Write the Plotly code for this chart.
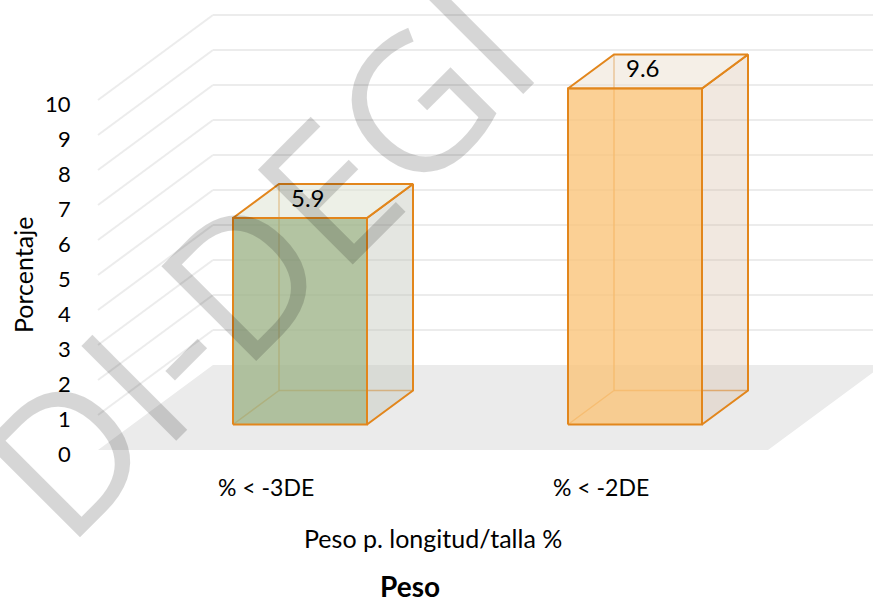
import plotly.graph_objects as go

# ---- data -------------------------------------------------------------
categories = ["% < -3DE", "% < -2DE"]
values = [5.9, 9.6]
tick_values = [0, 1, 2, 3, 4, 5, 6, 7, 8, 9, 10]
tick_labels = [str(t) for t in tick_values]
x_title = "Peso p. longitud/talla %"
y_title = "Porcentaje"
chart_title = "Peso"
watermark = "DI-DEGI"

# ---- styling ----------------------------------------------------------
front_colors = ["rgba(160,181,139,0.80)", "rgba(250,196,122,0.80)"]
top_colors = ["rgba(222,228,212,0.55)", "rgba(236,226,212,0.55)"]
side_colors = ["rgba(196,200,188,0.45)", "rgba(215,190,165,0.35)"]
edge_color = "rgb(226,134,28)"
hidden_edge_color = "rgba(226,134,28,0.75)"
grid_color = "rgb(236,236,236)"
floor_color = "rgb(235,235,235)"
FONT = "Lato"

W, H = 873, 598
PX_PER_CAT = 335.0      # pixels per category band
PX_PER_UNIT = 35.0      # pixels per percentage point
DEPTH_PX = (115.0, 85.0)  # oblique offset of the full floor depth

# oblique projection: depth d in [0, 1] shifts the point back and up
DU = DEPTH_PX[0] / PX_PER_CAT
DV = DEPTH_PX[1] / PX_PER_UNIT


def proj(u, v, d):
    return u + d * DU, v + d * DV


def poly(points):
    xs, ys = [], []
    for (u, v, d) in points:
        x, y = proj(u, v, d)
        xs.append(x)
        ys.append(y)
    xs.append(xs[0])
    ys.append(ys[0])
    return xs, ys


def seg(p, q):
    x0, y0 = proj(*p)
    x1, y1 = proj(*q)
    return [x0, x1, None], [y0, y1, None]


n = len(categories)
fig = go.Figure()

# floor
fx, fy = poly([(0, 0, 0), (n, 0, 0), (n, 0, 1), (0, 0, 1)])
fig.add_trace(go.Scatter(x=fx, y=fy, mode="lines", fill="toself",
                         fillcolor=floor_color, line=dict(width=0),
                         hoverinfo="skip", showlegend=False))

# gridlines on back wall and side wall
gx, gy = [], []
for t in tick_values[1:]:
    a, b = seg((0, t, 1), (n + 0.5, t, 1))
    gx += a; gy += b
    a, b = seg((0, t, 0), (0, t, 1))
    gx += a; gy += b
fig.add_trace(go.Scatter(x=gx, y=gy, mode="lines",
                         line=dict(color=grid_color, width=2),
                         hoverinfo="skip", showlegend=False))

BAR_HALF = 0.2
D0, D1 = 0.3, 0.7
for i, (cat, val) in enumerate(zip(categories, values)):
    c = i + 0.5
    uL, uR = c - BAR_HALF, c + BAR_HALF

    # edges hidden behind the front face
    hx, hy = [], []
    for p, q in [((uL, 0, D1), (uL, val, D1)),
                 ((uL, 0, D1), (uR, 0, D1)),
                 ((uL, 0, D0), (uL, 0, D1))]:
        a, b = seg(p, q)
        hx += a; hy += b
    fig.add_trace(go.Scatter(x=hx, y=hy, mode="lines",
                             line=dict(color=hidden_edge_color, width=1.5),
                             hoverinfo="skip", showlegend=False))

    # right side face
    sx, sy = poly([(uR, 0, D0), (uR, 0, D1), (uR, val, D1), (uR, val, D0)])
    fig.add_trace(go.Scatter(x=sx, y=sy, mode="lines", fill="toself",
                             fillcolor=side_colors[i],
                             line=dict(color=edge_color, width=2),
                             hoverinfo="skip", showlegend=False))
    # top face
    tx, ty = poly([(uL, val, D0), (uR, val, D0), (uR, val, D1), (uL, val, D1)])
    fig.add_trace(go.Scatter(x=tx, y=ty, mode="lines", fill="toself",
                             fillcolor=top_colors[i],
                             line=dict(color=edge_color, width=2),
                             hoverinfo="skip", showlegend=False))
    # front face
    ox, oy = poly([(uL, 0, D0), (uR, 0, D0), (uR, val, D0), (uL, val, D0)])
    fig.add_trace(go.Scatter(x=ox, y=oy, mode="lines", fill="toself",
                             fillcolor=front_colors[i],
                             line=dict(color=edge_color, width=2),
                             hoverinfo="skip", showlegend=False))

    # value label on the top face
    lx, ly = proj(c, val, 0.5)
    fig.add_annotation(x=lx, y=ly, text=f"{val:.1f}", showarrow=False,
                       xshift=-15, yshift=4,
                       font=dict(family=FONT, size=24, color="#000"))

    # category label
    fig.add_annotation(x=c, y=0, text=cat, showarrow=False, yshift=-37,
                       font=dict(family=FONT, size=23, color="#000"))

# value-axis tick labels
for t, lab in zip(tick_values, tick_labels):
    fig.add_annotation(x=0, y=t, text=lab, showarrow=False,
                       xanchor="right", xshift=-25, yshift=-3,
                       font=dict(family=FONT, size=22, color="#000"))

# axis titles and chart title
fig.add_annotation(x=n / 2, y=0, text=x_title, showarrow=False, yshift=-88,
                   font=dict(family=FONT, size=25, color="#000"))
fig.add_annotation(x=0, y=5, text=y_title, showarrow=False, textangle=-90,
                   xshift=-75, yshift=0,
                   font=dict(family=FONT, size=25, color="#000"))
fig.add_annotation(x=n / 2, y=0, text=f"<b>{chart_title}</b>", showarrow=False,
                   xshift=-23, yshift=-136,
                   font=dict(family=FONT, size=28, color="#000"))

# diagonal watermark across the plot
fig.add_annotation(xref="paper", yref="paper", x=255 / W, y=1 - 259 / H,
                   xanchor="center", yanchor="middle",
                   text=watermark, showarrow=False, textangle=-45,
                   font=dict(family="Open Sans", size=188,
                             color="rgba(0,0,0,0.16)"))

X0 = -98 / PX_PER_CAT
Y1 = 450 / PX_PER_UNIT
fig.update_layout(
    width=W, height=H,
    margin=dict(l=0, r=0, t=0, b=0),
    paper_bgcolor="white", plot_bgcolor="white",
    xaxis=dict(range=[X0, X0 + W / PX_PER_CAT], visible=False, fixedrange=True),
    yaxis=dict(range=[Y1 - H / PX_PER_UNIT, Y1], visible=False, fixedrange=True),
    showlegend=False,
)

fig.write_html("out.html")
